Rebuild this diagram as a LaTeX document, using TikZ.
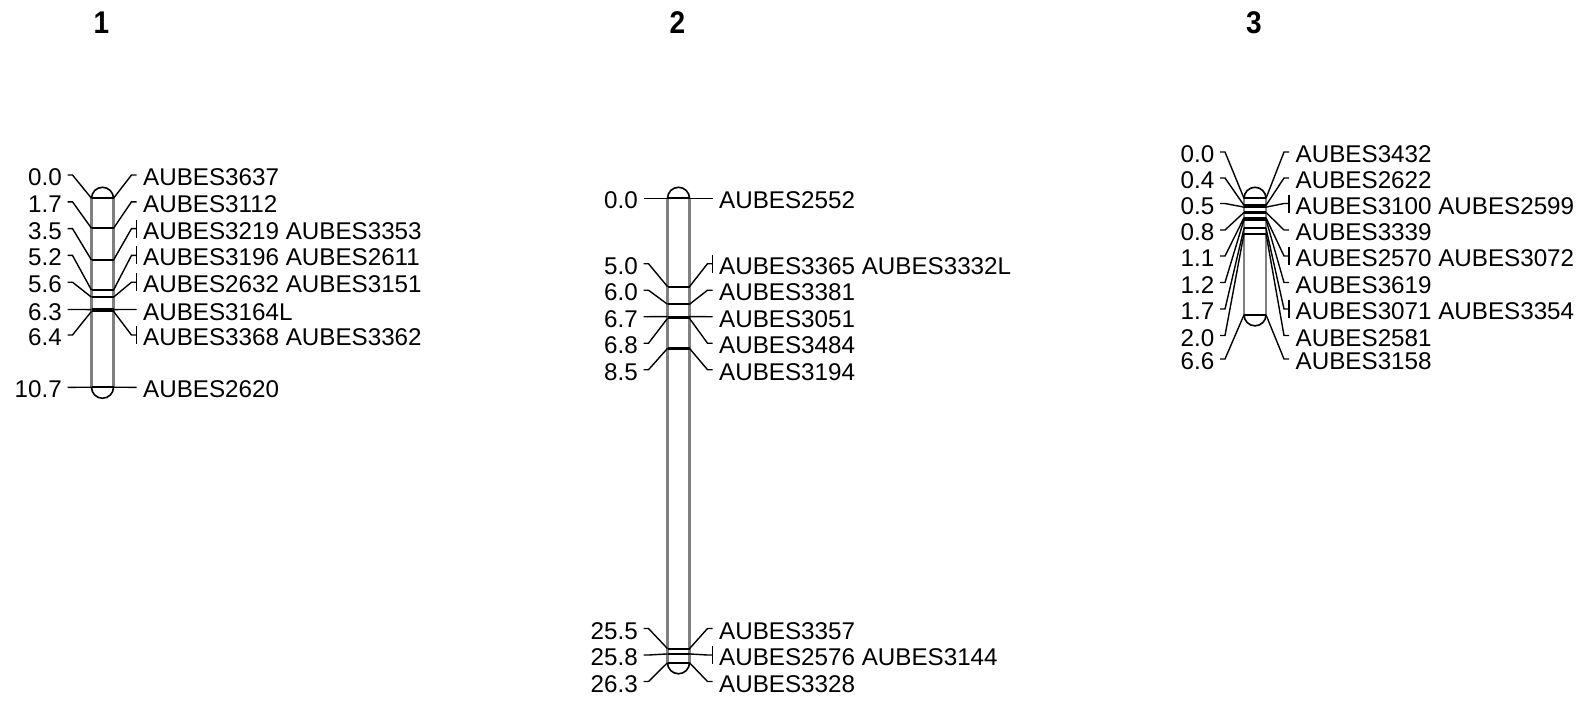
\documentclass[tikz,border=0pt]{standalone}
\usepackage{fontspec}
\setmainfont{Liberation Sans}
\usetikzlibrary{calc}
\tikzset{
  conn/.style={line width=1.4pt, black},
  mline/.style={line width=2.2pt, black},
  side/.style={line width=2.2pt, black!50},
  capline/.style={line width=1.6pt, black},
  numlab/.style={inner sep=0pt, anchor=base east, font=\fontsize{24.2}{28}\selectfont},
  namelab/.style={inner sep=0pt, anchor=base west, font=\fontsize{24.2}{28}\selectfont},
  title/.style={inner sep=0pt, anchor=base, font=\fontsize{28}{32}\selectfont\bfseries, yscale=1.12},
}
% chromosome bar: #1 name, #2 left x, #3 length in cM
\newcommand\chrbar[3]{%
  \pgfmathsetmacro\ytop{198.3}%
  \pgfmathsetmacro\ybot{198.3+#3*17.66}%
  \pgfmathsetmacro\xr{#2+22}%
  \pgfmathsetmacro\xc{#2+11}%
  \coordinate (#1top) at (\xc,\ytop);
  \coordinate (#1bot) at (\xc,\ybot);
  \draw[side] (#2,\ytop) -- (#2,\ybot) (\xr,\ytop) -- (\xr,\ybot);
  \draw[capline] (#2,\ytop) arc[start angle=180, end angle=360, radius=11];
  \draw[capline] (#2,\ybot) arc[start angle=180, end angle=0, radius=11];
}
% locus: #1 id, #2 left x, #3 cM, #4 row y, #5 number, #6 names, #7 tick
\newcommand\locus[7]{%
  \pgfmathsetmacro\my{198.3+#3*17.66}%
  \pgfmathsetmacro\xr{#2+22}%
  \coordinate (#1l) at (#2,\my);
  \coordinate (#1r) at (\xr,\my);
  \coordinate (#1a) at (#2-24,#4);
  \coordinate (#1b) at (\xr+23,#4);
  \draw[mline] (#1l) -- (#1r);
  \draw[conn] (#1a) -- ++(5,0) -- (#1l);
  \draw[conn] (#1r) -- ($(#1b)+(-5,0)$) -- (#1b);
  \ifnum#7=1 \draw[conn] ($(#1b)+(0,-9)$) -- ($(#1b)+(0,9)$);\fi
  \node[numlab] (#1n) at (#2-29.5,#4+10.5) {#5};
  \node[namelab] (#1m) at (\xr+29.5,#4+10.5) {#6};
}
\begin{document}
\begin{tikzpicture}[x=1pt,y=-1pt]
\useasboundingbox (0,0) rectangle (1585,702);
\fill[white] (0,0) rectangle (1585,702);
% titles
\node[title] (t1) at (101.5,33) {1};
\node[title] (t2) at (677.5,33) {2};
\node[title] (t3) at (1254,33) {3};
% chromosome 1
\chrbar{c1}{91.5}{10.7}
\locus{a1}{91.5}{0.0}{175}{0.0}{AUBES3637}{0}
\locus{a2}{91.5}{1.7}{201.8}{1.7}{AUBES3112}{0}
\locus{a3}{91.5}{3.5}{228.6}{3.5}{AUBES3219 AUBES3353}{1}
\locus{a4}{91.5}{5.2}{255.4}{5.2}{AUBES3196 AUBES2611}{1}
\locus{a5}{91.5}{5.6}{282.2}{5.6}{AUBES2632 AUBES3151}{1}
\locus{a6}{91.5}{6.3}{309.5}{6.3}{AUBES3164L}{0}
\locus{a7}{91.5}{6.4}{335}{6.4}{AUBES3368 AUBES3362}{1}
\locus{a8}{91.5}{10.7}{387.3}{10.7}{AUBES2620}{0}
% chromosome 2
\chrbar{c2}{667.5}{26.3}
\locus{b1}{667.5}{0.0}{198.3}{0.0}{AUBES2552}{0}
\locus{b2}{667.5}{5.0}{263.7}{5.0}{AUBES3365 AUBES3332L}{1}
\locus{b3}{667.5}{6.0}{290.2}{6.0}{AUBES3381}{0}
\locus{b4}{667.5}{6.7}{316.7}{6.7}{AUBES3051}{0}
\locus{b5}{667.5}{6.8}{343.2}{6.8}{AUBES3484}{0}
\locus{b6}{667.5}{8.5}{369.7}{8.5}{AUBES3194}{0}
\locus{b7}{667.5}{25.5}{628.5}{25.5}{AUBES3357}{0}
\locus{b8}{667.5}{25.8}{655}{25.8}{AUBES2576 AUBES3144}{1}
\locus{b9}{667.5}{26.3}{681.5}{26.3}{AUBES3328}{0}
% chromosome 3
\chrbar{c3}{1244}{6.6}
\locus{d1}{1244}{0.0}{152}{0.0}{AUBES3432}{0}
\locus{d2}{1244}{0.4}{178}{0.4}{AUBES2622}{0}
\locus{d3}{1244}{0.5}{203.5}{0.5}{AUBES3100 AUBES2599}{1}
\locus{d4}{1244}{0.8}{230}{0.8}{AUBES3339}{0}
\locus{d5}{1244}{1.1}{256}{1.1}{AUBES2570 AUBES3072}{1}
\locus{d6}{1244}{1.2}{282.5}{1.2}{AUBES3619}{0}
\locus{d7}{1244}{1.7}{309}{1.7}{AUBES3071 AUBES3354}{1}
\locus{d8}{1244}{2.0}{335.5}{2.0}{AUBES2581}{0}
\locus{d9}{1244}{6.6}{359}{6.6}{AUBES3158}{0}
\end{tikzpicture}
\end{document}
